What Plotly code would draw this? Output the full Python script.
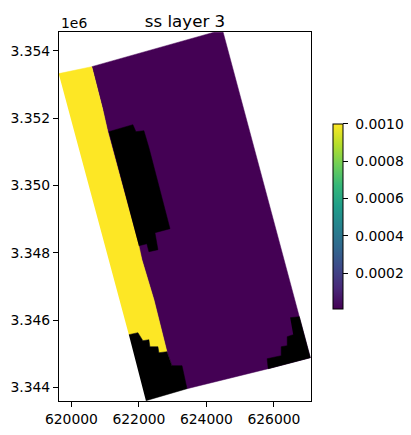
import plotly.graph_objects as go

PURPLE = "#440154"
YELLOW = "#fde725"
BLACK = "#000000"

# Zone outlines, in map coordinates (m)
purple_x = [620603, 624226, 624494, 627077, 625830, 623424, 622979, 622830, 622444, 622088, 621078, 620930]
purple_y = [3353525, 3354549, 3354549, 3344882, 3344555, 3343961, 3344644, 3345060, 3346605, 3347793, 3351594, 3352248]

yellow_x = [619623, 620603, 620930, 621078, 621999, 622088, 622444, 622830, 622593, 622563, 622325, 622296, 622118, 621970, 621702]
yellow_y = [3353317, 3353525, 3352248, 3351594, 3348208, 3347793, 3346605, 3345060, 3345031, 3345209, 3345209, 3345417, 3345387, 3345625, 3345565]

inactive_mid_x = [621108, 621821, 621910, 622147, 622296, 622920, 622474, 622563, 622296, 622236, 621999]
inactive_mid_y = [3351594, 3351802, 3351594, 3351624, 3351119, 3348713, 3348595, 3348090, 3348030, 3348268, 3348208]

inactive_south_x = [621702, 621970, 622118, 622296, 622325, 622563, 622593, 622830, 622979, 623276, 623424, 622207]
inactive_south_y = [3345565, 3345625, 3345387, 3345417, 3345209, 3345209, 3345031, 3345060, 3344644, 3344644, 3343961, 3343605]

inactive_east_x = [626483, 626751, 627077, 625830, 625800, 626216, 626216, 626394, 626394, 626572]
inactive_east_y = [3346070, 3346100, 3344882, 3344555, 3344852, 3344942, 3345209, 3345239, 3345506, 3345565]

x_ticks = [620000, 622000, 624000, 626000]
x_labels = ["620000", "622000", "624000", "626000"]
y_ticks = [3344000, 3346000, 3348000, 3350000, 3352000, 3354000]
y_labels = ["3.344", "3.346", "3.348", "3.350", "3.352", "3.354"]
cb_ticks = [0.0002, 0.0004, 0.0006, 0.0008, 0.0010]
cb_labels = ["0.0002", "0.0004", "0.0006", "0.0008", "0.0010"]
cb_range = [0.00001, 0.0010]

FONT = "DejaVu Sans"
TXT = "#000000"

fig = go.Figure()
for xs, ys, col in [
    (purple_x, purple_y, PURPLE),
    (yellow_x, yellow_y, YELLOW),
    (inactive_mid_x, inactive_mid_y, BLACK),
    (inactive_south_x, inactive_south_y, BLACK),
    (inactive_east_x, inactive_east_y, BLACK),
]:
    fig.add_trace(go.Scatter(x=xs, y=ys, mode="lines", fill="toself", fillcolor=col,
                             line=dict(color=col, width=0.5), hoverinfo="skip", showlegend=False))

fig.add_trace(go.Scatter(
    x=[None, None], y=[None, None], mode="markers", showlegend=False, hoverinfo="skip",
    marker=dict(color=cb_range, cmin=cb_range[0], cmax=cb_range[1], colorscale="Viridis", size=1,
                colorbar=dict(
                    lenmode="pixels", len=185, thicknessmode="pixels", thickness=10,
                    x=1.086, xanchor="left", y=0.5005, yanchor="middle", xpad=0, ypad=0,
                    outlinecolor="#000", outlinewidth=1, borderwidth=0,
                    tickmode="array", tickvals=cb_ticks, ticktext=["\u00a0" + t for t in cb_labels],
                    ticks="outside", ticklen=5, tickwidth=1, tickcolor="#000",
                    tickfont=dict(family=FONT, size=13.9, color=TXT),
                )),
))

axis = dict(showgrid=False, zeroline=False, showline=True, mirror=True, linecolor="#000", linewidth=1,
            ticks="outside", ticklen=5, tickwidth=1, tickcolor="#000",
            tickfont=dict(family=FONT, size=13.9, color=TXT), tickmode="array", automargin=False)

fig.update_layout(
    width=411, height=435, autosize=False,
    paper_bgcolor="white", plot_bgcolor="white",
    margin=dict(l=59.3, r=100.3, t=32.3, b=33.7, pad=0, autoexpand=False),
    xaxis=dict(axis, range=[619632, 627098], tickvals=x_ticks, ticktext=x_labels),
    yaxis=dict(axis, range=[3343596, 3354555], tickvals=y_ticks, ticktext=y_labels),
    title=dict(text="ss layer 3", x=185 / 411, xanchor="center", y=1 - 21 / 435, yanchor="middle",
               font=dict(family=FONT, size=16.67, color=TXT)),
    annotations=[dict(text="1e6", xref="paper", yref="paper", x=0, y=1, xanchor="left", yanchor="bottom",
                      showarrow=False, yshift=-1, font=dict(family=FONT, size=13.9, color=TXT))],
)
fig.write_html("out.html", config=dict(displayModeBar=False),
               post_script="document.body.style.margin='0';document.body.style.overflow='hidden';")
